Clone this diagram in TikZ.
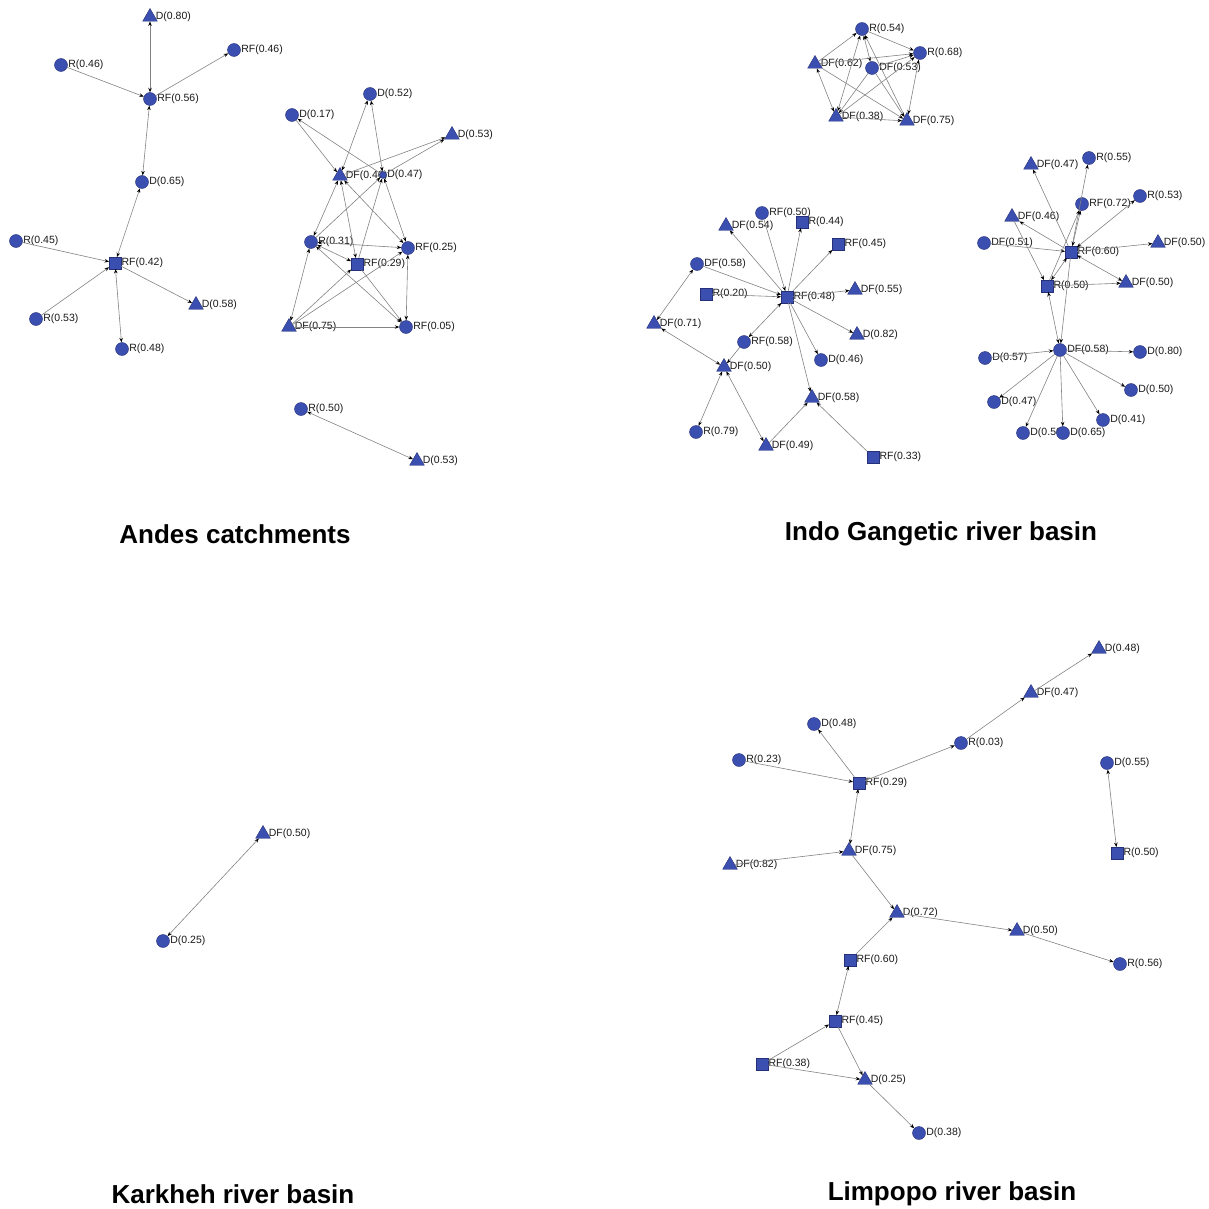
\documentclass[tikz,border=0pt]{standalone}
\usepackage{fontspec}
\setmainfont{Liberation Sans}
\usetikzlibrary{shapes.geometric,arrows.meta}
\definecolor{nodeblue}{RGB}{59,79,177}
\definecolor{nodeedge}{RGB}{38,48,120}
\definecolor{linkgray}{RGB}{130,130,130}

\begin{document}
\begin{tikzpicture}[x=1pt,y=-1pt,
    >={Stealth[length=4.5pt,width=3.5pt,color=black]},
    every label/.style={font=\fontsize{10.5}{12}\selectfont,inner sep=0pt,text=black!90},
    label distance=0.5pt,
    circ/.style={circle,fill=nodeblue,draw=nodeedge,line width=0.4pt,inner sep=0pt,minimum size=13pt},
    sq/.style={rectangle,fill=nodeblue,draw=nodeedge,line width=0.4pt,inner sep=0pt,minimum size=11.5pt},
    tri/.style={regular polygon,regular polygon sides=3,fill=nodeblue,draw=nodeedge,line width=0.4pt,inner sep=0pt,minimum size=17pt},
    link/.style={draw=linkgray,line width=0.6pt},
    title/.style={font=\fontsize{26}{30}\selectfont\bfseries}]
  \useasboundingbox (0,0) rectangle (1209,1209);

  % Andes catchments
  \node[tri,label=right:D(0.80)] (aD80) at (150,17) {};
  \node[circ,label=right:RF(0.46)] (aRF46) at (234,50) {};
  \node[circ,label=right:R(0.46)] (aR46) at (61,65) {};
  \node[circ,label=right:RF(0.56)] (aRF56) at (150,99) {};
  \node[circ,label=right:D(0.65)] (aD65) at (142,182) {};
  \node[circ,label=right:R(0.45)] (aR45) at (16,241) {};
  \node[sq,label=right:RF(0.42)] (aRF42) at (115,263) {};
  \node[tri,label=right:D(0.58)] (aD58) at (196,305) {};
  \node[circ,label=right:R(0.53)] (aR53) at (36,319) {};
  \node[circ,label=right:R(0.48)] (aR48) at (122,349) {};
  \draw[link,<->] (aD80) -- (aRF56);
  \draw[link,->] (aR46) -- (aRF56);
  \draw[link,->] (aRF56) -- (aRF46);
  \draw[link,<->] (aRF56) -- (aD65);
  \draw[link,<->] (aD65) -- (aRF42);
  \draw[link,->] (aR45) -- (aRF42);
  \draw[link,->] (aR53) -- (aRF42);
  \draw[link,->] (aRF42) -- (aD58);
  \draw[link,<->] (aRF42) -- (aR48);

  \node[circ,label=right:D(0.17)] (bD17) at (292,115) {};
  \node[circ,label=right:D(0.52)] (bD52) at (370,94) {};
  \node[tri,label=right:D(0.53)] (bD53) at (452,135) {};
  \node[tri,label=right:DF(0.46)] (bDF46) at (340,176) {};
  \node[circ,minimum size=7pt,label=right:D(0.47)] (bD47) at (383,175) {};
  \node[circ,label=right:R(0.31)] (bR31) at (311,242) {};
  \node[circ,label=right:RF(0.25)] (bRF25) at (408,248) {};
  \node[sq,label=right:RF(0.29)] (bRF29) at (357,264) {};
  \node[tri,label=right:DF(0.75)] (bDF75) at (289,327) {};
  \node[circ,label=right:RF(0.05)] (bRF05) at (406,327) {};
  \draw[link,->] (bD17) -- (bDF46);
  \draw[link,->] (bD47) -- (bD17);
  \draw[link,<->] (bD52) -- (bDF46);
  \draw[link,<->] (bD47) -- (bD52);
  \draw[link,->] (bDF46) -- (bD53);
  \draw[link,->] (bD47) -- (bD53);
  \draw[link,<->] (bDF46) -- (bR31);
  \draw[link,<->] (bRF29) -- (bDF46);
  \draw[link,<->] (bDF46) -- (bRF25);
  \draw[link,->] (bR31) -- (bD47);
  \draw[link,->] (bRF29) -- (bD47);
  \draw[link,<->] (bD47) -- (bRF25);
  \draw[link,<->] (bR31) -- (bRF25);
  \draw[link,<->] (bR31) -- (bRF29);
  \draw[link,<->] (bDF75) -- (bR31);
  \draw[link,<->] (bR31) -- (bRF05);
  \draw[link,->] (bDF75) -- (bRF25);
  \draw[link,->] (bDF75) -- (bRF29);
  \draw[link,->] (bRF29) -- (bRF05);
  \draw[link,->] (bDF75) -- (bRF05);
  \draw[link,<->] (bRF25) -- (bRF05);

  \node[circ,label=right:R(0.50)] (cR50) at (301,409) {};
  \node[tri,label=right:D(0.53)] (cD53) at (417,461) {};
  \draw[link,<->] (cR50) -- (cD53);

  \node[title] (tAndes) at (235,534) {Andes catchments};

  % Indo Gangetic river basin
  \node[circ,label=right:R(0.54)] (gR54) at (862,29) {};
  \node[circ,label=right:R(0.68)] (gR68) at (920,53) {};
  \node[tri,label=right:DF(0.62)] (gDF62) at (815,64) {};
  \node[circ,label=right:DF(0.53)] (gDF53) at (872,68) {};
  \node[tri,label=right:DF(0.38)] (gDF38) at (836,117) {};
  \node[tri,label=right:DF(0.75)] (gDF75) at (907,121) {};
  \draw[link,->] (gR54) -- (gR68);
  \draw[link,->] (gDF62) -- (gR54);
  \draw[link,<->] (gDF53) -- (gR54);
  \draw[link,<->] (gDF38) -- (gR54);
  \draw[link,->] (gDF75) -- (gR54);
  \draw[link,->] (gDF62) -- (gR68);
  \draw[link,->] (gDF53) -- (gR68);
  \draw[link,->] (gDF38) -- (gR68);
  \draw[link,<->] (gR68) -- (gDF75);
  \draw[link,<->] (gDF62) -- (gDF38);
  \draw[link,->] (gDF62) -- (gDF75);
  \draw[link,->] (gDF53) -- (gDF38);
  \draw[link,->] (gDF53) -- (gDF75);
  \draw[link,->] (gDF38) -- (gDF75);

  \node[sq,label=right:RF(0.48)] (gRF48) at (787,297) {};
  \node[circ,label=right:RF(0.50)] (gRF50) at (762,213) {};
  \node[sq,label=right:R(0.44)] (gR44) at (802,222) {};
  \node[tri,label=right:DF(0.54)] (gDF54) at (726,226) {};
  \node[sq,label=right:RF(0.45)] (gRF45) at (838,244) {};
  \node[circ,label=right:DF(0.58)] (gDF58c) at (697,264) {};
  \node[sq,label=right:R(0.20)] (gR20) at (706,294) {};
  \node[tri,label=right:DF(0.55)] (gDF55) at (855,290) {};
  \node[tri,label=right:DF(0.71)] (gDF71) at (654,324) {};
  \node[tri,label=right:D(0.82)] (gD82) at (857,335) {};
  \node[circ,label=right:RF(0.58)] (gRF58) at (744,342) {};
  \node[circ,label=right:D(0.46)] (gD46) at (821,360) {};
  \node[tri,label=right:DF(0.50)] (gDF50) at (724,367) {};
  \node[tri,label=right:DF(0.58)] (gDF58t) at (812,398) {};
  \node[circ,label=right:R(0.79)] (gR79) at (696,432) {};
  \node[tri,label=right:DF(0.49)] (gDF49) at (766,446) {};
  \node[sq,label=right:RF(0.33)] (gRF33) at (873,457) {};
  \draw[link,->] (gRF48) -- (gDF54);
  \draw[link,->] (gRF50) -- (gRF48);
  \draw[link,->] (gRF48) -- (gR44);
  \draw[link,->] (gRF48) -- (gRF45);
  \draw[link,->] (gDF58c) -- (gRF48);
  \draw[link,->] (gR20) -- (gRF48);
  \draw[link,->] (gRF48) -- (gDF55);
  \draw[link,->] (gRF48) -- (gD82);
  \draw[link,->] (gRF48) -- (gD46);
  \draw[link,<->] (gRF48) -- (gRF58);
  \draw[link,->] (gRF58) -- (gDF50);
  \draw[link,->] (gRF48) -- (gDF58t);
  \draw[link,<->] (gDF71) -- (gDF58c);
  \draw[link,<->] (gDF71) -- (gDF50);
  \draw[link,<->] (gDF50) -- (gR79);
  \draw[link,<->] (gDF50) -- (gDF49);
  \draw[link,->] (gDF49) -- (gDF58t);
  \draw[link,->] (gRF33) -- (gDF58t);

  \node[sq,label=right:RF(0.60)] (hRF60) at (1071,252) {};
  \node[tri,label=right:DF(0.47)] (hDF47) at (1031,165) {};
  \node[circ,label=right:R(0.55)] (hR55) at (1089,158) {};
  \node[circ,label=right:R(0.53)] (hR53) at (1140,196) {};
  \node[circ,label=right:RF(0.72)] (hRF72) at (1082,204) {};
  \node[tri,label=right:DF(0.46)] (hDF46) at (1012,217) {};
  \node[circ,label=right:DF(0.51)] (hDF51) at (984,243) {};
  \node[tri,label=right:DF(0.50)] (hDF50a) at (1158,243) {};
  \node[sq,label=right:R(0.50)] (hR50) at (1047,286) {};
  \node[tri,label=right:DF(0.50)] (hDF50b) at (1126,283) {};
  \node[circ,label=right:DF(0.58)] (hDF58) at (1060,350) {};
  \node[circ,label=right:D(0.57)] (hD57) at (985,358) {};
  \node[circ,label=right:D(0.80)] (hD80) at (1140,352) {};
  \node[circ,label=right:D(0.50)] (hD50a) at (1131,390) {};
  \node[circ,label=right:D(0.47)] (hD47) at (994,402) {};
  \node[circ,label=right:D(0.41)] (hD41) at (1103,420) {};
  \node[circ,label=right:D(0.50)] (hD50b) at (1023,433) {};
  \node[circ,label=right:D(0.65)] (hD65) at (1063,433) {};
  \draw[link,->] (hRF60) -- (hDF47);
  \draw[link,->] (hRF60) -- (hR55);
  \draw[link,<->] (hRF60) -- (hRF72);
  \draw[link,<->] (hRF60) -- (hR53);
  \draw[link,->] (hRF60) -- (hDF46);
  \draw[link,->] (hDF51) -- (hRF60);
  \draw[link,->] (hRF60) -- (hDF50a);
  \draw[link,<->] (hRF60) -- (hDF50b);
  \draw[link,<->] (hR50) -- (hRF60);
  \draw[link,->] (hR50) -- (hRF72);
  \draw[link,->] (hDF46) -- (hR50);
  \draw[link,->] (hR50) -- (hDF50b);
  \draw[link,<->] (hR50) -- (hDF58);
  \draw[link,->] (hRF60) -- (hDF58);
  \draw[link,->] (hD57) -- (hDF58);
  \draw[link,->] (hDF58) -- (hD80);
  \draw[link,->] (hDF58) -- (hD50a);
  \draw[link,->] (hDF58) -- (hD47);
  \draw[link,->] (hDF58) -- (hD41);
  \draw[link,->] (hDF58) -- (hD50b);
  \draw[link,->] (hDF58) -- (hD65);

  \node[title] (tIndo) at (941,534) {Indo Gangetic river basin};

  % Karkheh river basin
  \node[tri,label=right:DF(0.50)] (kDF50) at (263,834) {};
  \node[circ,label=right:D(0.25)] (kD25) at (163,941) {};
  \draw[link,<->] (kD25) -- (kDF50);

  \node[title] (tKark) at (233,1194) {Karkheh river basin};

  % Limpopo river basin
  \node[tri,label=right:D(0.48)] (lD48t) at (1099,649) {};
  \node[tri,label=right:DF(0.47)] (lDF47) at (1031,693) {};
  \node[circ,label=right:D(0.48)] (lD48c) at (814,724) {};
  \node[circ,label=right:R(0.03)] (lR03) at (961,743) {};
  \node[circ,label=right:R(0.23)] (lR23) at (739,760) {};
  \node[sq,label=right:RF(0.29)] (lRF29) at (859,783) {};
  \node[circ,label=right:D(0.55)] (lD55) at (1107,763) {};
  \node[tri,label=right:DF(0.75)] (lDF75) at (849,851) {};
  \node[tri,label=right:DF(0.82)] (lDF82) at (730,865) {};
  \node[sq,label=right:R(0.50)] (lR50) at (1117,853) {};
  \node[tri,label=right:D(0.72)] (lD72) at (897,913) {};
  \node[tri,label=right:D(0.50)] (lD50) at (1017,931) {};
  \node[sq,label=right:RF(0.60)] (lRF60) at (850,960) {};
  \node[circ,label=right:R(0.56)] (lR56) at (1120,964) {};
  \node[sq,label=right:RF(0.45)] (lRF45) at (835,1021) {};
  \node[sq,label=right:RF(0.38)] (lRF38) at (762,1064) {};
  \node[tri,label=right:D(0.25)] (lD25) at (865,1080) {};
  \node[circ,label=right:D(0.38)] (lD38) at (919,1133) {};
  \draw[link,->] (lRF29) -- (lD48c);
  \draw[link,->] (lR23) -- (lRF29);
  \draw[link,->] (lRF29) -- (lR03);
  \draw[link,->] (lR03) -- (lDF47);
  \draw[link,->] (lDF47) -- (lD48t);
  \draw[link,<->] (lRF29) -- (lDF75);
  \draw[link,->] (lDF82) -- (lDF75);
  \draw[link,->] (lDF75) -- (lD72);
  \draw[link,->] (lD72) -- (lD50);
  \draw[link,->] (lD50) -- (lR56);
  \draw[link,->] (lRF60) -- (lD72);
  \draw[link,<->] (lRF60) -- (lRF45);
  \draw[link,->] (lRF38) -- (lRF45);
  \draw[link,->] (lRF45) -- (lD25);
  \draw[link,->] (lRF38) -- (lD25);
  \draw[link,->] (lD25) -- (lD38);
  \draw[link,<->] (lD55) -- (lR50);

  \node[title] (tLimp) at (952,1194) {Limpopo river basin};
\end{tikzpicture}
\end{document}
